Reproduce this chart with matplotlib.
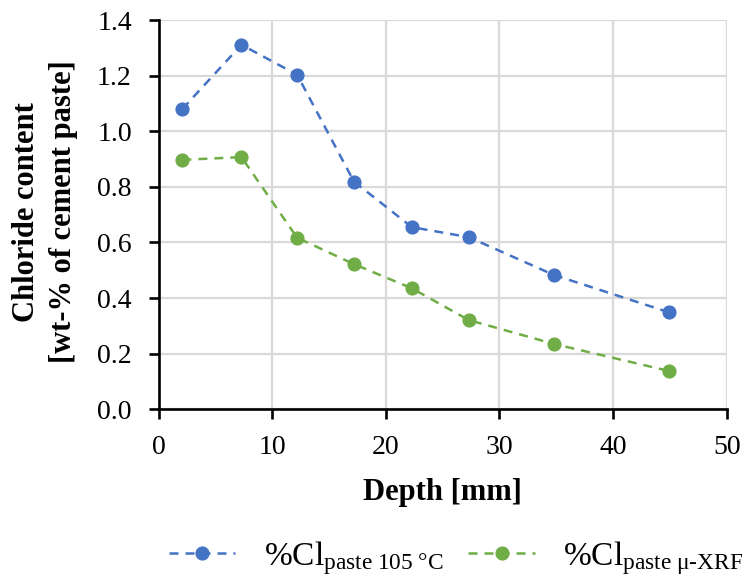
import numpy as np
import matplotlib
matplotlib.use("Agg")
from matplotlib import pyplot as plt

# values
depth = [2.1, 7.3, 12.2, 17.2, 22.3, 27.3, 34.8, 44.9]
cl_105 = [1.080, 1.311, 1.203, 0.819, 0.655, 0.619, 0.483, 0.349]
cl_xrf = [0.897, 0.907, 0.617, 0.522, 0.435, 0.321, 0.235, 0.138]

x_ticks = [0, 10, 20, 30, 40, 50]
y_ticks = [0.0, 0.2, 0.4, 0.6, 0.8, 1.0, 1.2, 1.4]

plt.rcParams['font.family'] = ['Liberation Serif', 'DejaVu Serif']
plt.rcParams['mathtext.fontset'] = 'custom'
plt.rcParams['mathtext.rm'] = 'Liberation Serif'
plt.rcParams['mathtext.it'] = 'Liberation Serif:italic'
plt.rcParams['mathtext.bf'] = 'Liberation Serif:bold'

W, H = 742, 582
fig = plt.figure(figsize=(W / 100, H / 100), dpi=100)
ax = fig.add_axes([158.5 / W, 1 - 409.3 / H, (726.7 - 158.5) / W, (409.3 - 20) / H])

ax.plot(depth, cl_105, '--o', color='#4472C4', lw=1.8, ms=9.2, dashes=(3.6, 2.8),
        label=r'%Cl$_{\mathrm{paste\ 105\ °C}}$', zorder=3)
ax.plot(depth, cl_xrf, '--o', color='#70AD47', lw=1.8, ms=9.2, dashes=(3.6, 2.8),
        label=r'%Cl$_{\mathrm{paste\ μ\text{-}XRF}}$', zorder=3)

ax.set_xlim(0, 50)
ax.set_ylim(0, 1.4)
ax.set_xticks(x_ticks)
ax.set_yticks(y_ticks)
ax.set_yticklabels([f'{v:.1f}' for v in y_ticks])
ax.tick_params(labelsize=20, length=7.2, width=1.9, color='black')
ax.tick_params(axis='x', pad=11)
ax.tick_params(axis='y', pad=12)
ax.grid(True, color='#d9d9d9', lw=1.6)
ax.set_axisbelow(True)
for s in ['top', 'right']:
    ax.spines[s].set_visible(False)
for s in ['left', 'bottom']:
    ax.spines[s].set_linewidth(1.9)

# axis titles
fig.text(442 / W, 1 - 500 / H, 'Depth [mm]', fontsize=22, fontweight='bold',
         ha='center', va='baseline')
fig.text(45 / W, 1 - 212 / H, 'Chloride content\n[wt-% of cement paste]',
         fontsize=22, fontweight='bold', rotation=90, ha='center', va='center',
         multialignment='center', linespacing=1.35)

fig.legend(loc='center', bbox_to_anchor=(456 / W, 1 - 558 / H), ncol=2, frameon=False,
           fontsize=24, handlelength=2.0, handletextpad=0.85, columnspacing=0.75,
           borderpad=0, borderaxespad=0)

fig.savefig('out.png', dpi=100)
